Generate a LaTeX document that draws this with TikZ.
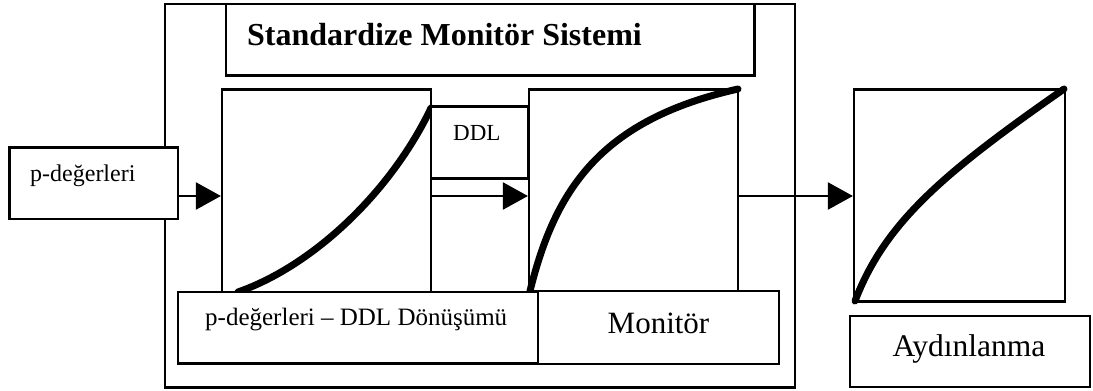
\documentclass[tikz,border=0pt]{standalone}
\usepackage{fontspec}
\setmainfont{Liberation Serif}
\usetikzlibrary{arrows.meta,fit}
\begin{document}
\begin{tikzpicture}[x=1pt,y=-1pt,
  box/.style={draw,line width=2.2pt,inner sep=0pt,fill=white},
  curve/.style={line width=7pt,line cap=round,line join=round},
  arr/.style={line width=2.2pt,-{Triangle[length=25pt,width=27pt]}},
  txt/.style={inner sep=0pt,anchor=base west},
  ctxt/.style={inner sep=0pt,anchor=base}]
\useasboundingbox (0,0) rectangle (1093,391);
% outer frame
\node[box,fill=none,fit={(164.7,4) (795,387.5)}] (outer) {};
% title box
\node[box,fit={(226,4) (754.5,75.5)}] (titlebox) {};
\node[txt,font=\bfseries\fontsize{32}{38}\selectfont] (title) at (247,45) {Standardize Monitör Sistemi};
% curve boxes
\node[box,fit={(222,89.5) (431,300)}] (lcurve) {};
\node[box,fit={(529,89.5) (738,291)}] (mcurve) {};
\node[box,fit={(854,89.5) (1065,301.5)}] (rcurve) {};
% curves
\draw[curve] (238,292) .. controls (315,265) and (392,190) .. (431,108);
\draw[curve] (530,291) .. controls (555,190) and (600,120) .. (738,89);
\draw[curve] (855,301) .. controls (885,223) and (942,174) .. (1064,89);
% DDL box
\node[box,fit={(431,106.5) (528.5,178.5)}] (ddlbox) {};
\node[txt,font=\fontsize{23}{28}\selectfont] (ddl) at (453,140.7) {DDL};
% bottom boxes
\node[box,fit={(177.7,292) (538,363.5)}] (convbox) {};
\node[txt,font=\fontsize{25}{30}\selectfont] (conv) at (205,325.7) {p-değerleri – DDL Dönüşümü};
\node[box,fit={(538,291) (779,364)}] (monbox) {};
\node[ctxt,font=\fontsize{31}{37}\selectfont] (mon) at (658.5,333) {Monitör};
\node[box,fit={(850,316) (1090,387)}] (aybox) {};
\node[ctxt,font=\fontsize{31.5}{38}\selectfont] (ay) at (969,356.7) {Aydınlanma};
% input box
\node[box,fit={(9.5,147.5) (177.7,219)}] (pbox) {};
\node[txt,font=\fontsize{24}{29}\selectfont] (ptxt) at (30,181.5) {p-değerleri};
% arrows
\coordinate (ay1) at (0,196);
\draw[arr] (pbox.east |- ay1) -- (lcurve.west |- ay1);
\draw[arr] (lcurve.east |- ay1) -- (mcurve.west |- ay1);
\draw[arr] (mcurve.east |- ay1) -- (rcurve.west |- ay1);
\end{tikzpicture}
\end{document}
